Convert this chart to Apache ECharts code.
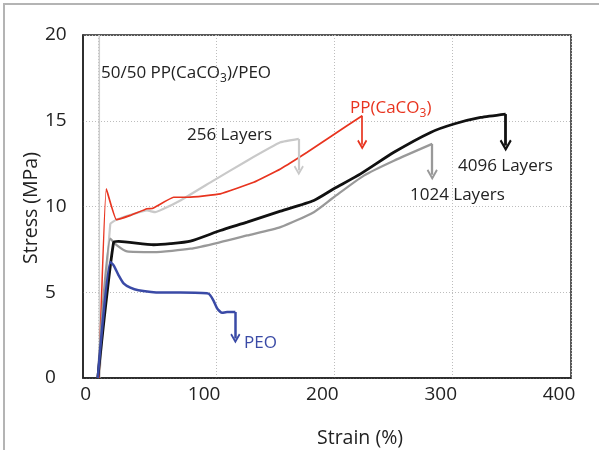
<!DOCTYPE html>
<html>
<head>
<meta charset="utf-8">
<script src="https://cdn.jsdelivr.net/npm/echarts@6/dist/echarts.min.js"></script>
<style>html,body{margin:0;padding:0;background:#fff}#c{width:599px;height:450px}</style>
</head>
<body>
<div id="c"></div>
<script>
// ---- data (strain %, stress MPa) ----
const xTicks = [0, 100, 200, 300, 400];
const yTicks = [0, 5, 10, 15, 20];
const refLine = [[1.3, 0], [1.3, 20]];
const layers256 = [[1.3,0],[10.6,8.99],[15.7,9.23],[41.6,9.77],[48.6,9.67],[69.8,10.35],[97.7,11.51],[126.2,12.67],[154.4,13.74],[169.9,13.94]];
const ppCaCO3 = [[1,0],[7.2,11.03],[15.7,9.23],[27.5,9.48],[41.6,9.87],[46,9.88],[64.1,10.54],[76.6,10.54],[103.6,10.74],[131.8,11.41],[154.4,12.19],[177,13.16],[196.7,14.07],[223.5,15.29]];
const layers4096 = [[0,0],[13.4,7.92],[17.6,7.97],[47.2,7.77],[61.3,7.83],[78.3,7.98],[103.6,8.6],[126.2,9.09],[154.4,9.73],[182.6,10.35],[199.5,11.03],[222.1,11.9],[250.3,13.16],[281.3,14.32],[301,14.81],[323.6,15.19],[344.8,15.39]];
const layers1024 = [[0,0],[10.6,8.12],[16.2,7.73],[24.7,7.38],[47.2,7.34],[78.3,7.54],[103.6,7.92],[126.2,8.31],[154.4,8.8],[182.6,9.67],[199.5,10.54],[224.9,11.8],[250.3,12.67],[282.7,13.65]];
const peo = [[0,0],[10.6,6.76],[13.4,6.57],[17.6,5.99],[21.8,5.52],[27.5,5.27],[34.3,5.12],[52.9,4.98],[69.8,4.98],[93.5,4.92],[97.7,4.53],[100.8,4.07],[105.1,3.8],[109.3,3.85],[116.3,3.85]];
// arrow tips (stress value at arrow head), arrows start at last point of each curve
const tip256 = 12.1, tipPP = 13.6, tip4096 = 13.55, tip1024 = 11.85, tipPEO = 2.3;

const FONT = 'Open Sans';
const arrowPath = 'path://M5,0L10,8.5L8.6,9.6L5,3.6L1.4,9.6L0,8.5Z';

function arrow(data, tip, color, width, size) {
  const last = data[data.length - 1];
  return {
    silent: true, animation: false,
    symbol: ['none', arrowPath], symbolSize: size,
    label: {show: false},
    lineStyle: {color: color, width: width, type: 'solid'},
    data: [[{coord: [last[0], last[1]]}, {coord: [last[0], tip]}]]
  };
}
function curve(name, data, color, width, tip, size, z, smooth) {
  return {
    name: name, type: 'line', data: data, showSymbol: false, smooth: smooth || false,
    lineStyle: {color: color, width: width}, z: z, animation: false,
    markLine: tip == null ? undefined : arrow(data, tip, color, width, size)
  };
}
const subRich = (color) => ({s: {fontSize: 12, lineHeight: 12, padding: [11, 0, 0, 0], fill: color, fontFamily: FONT}});

const chart = echarts.init(document.getElementById('c'));
chart.setOption({
  animation: false,
  grid: {left: 83, top: 35, right: 28, bottom: 72, show: true, borderColor: '#222', borderWidth: 1.5, containLabel: false, outerBoundsMode: 'none'},
  xAxis: {
    type: 'value', min: -12.5, max: 400,
    axisLine: {show: true, onZero: false, lineStyle: {color: '#222', width: 1.5}},
    axisTick: {show: false, customValues: xTicks},
    axisLabel: {customValues: xTicks, color: '#222', fontFamily: FONT, fontSize: 19, margin: 7, padding: [0, 24, 0, 0]},
    splitLine: {show: true, lineStyle: {color: '#bdbdbd', type: [1, 2], width: 1}}
  },
  yAxis: {
    type: 'value', min: 0, max: 20, interval: 5,
    axisLine: {show: true, onZero: false, lineStyle: {color: '#222', width: 1.5}},
    axisTick: {show: false},
    axisLabel: {color: '#222', fontFamily: FONT, fontSize: 19, margin: 38, align: 'left'},
    splitLine: {show: true, lineStyle: {color: '#bdbdbd', type: [1, 2], width: 1}}
  },
  series: [
    curve('ref', refLine, '#cdcdcd', 1.5, null, null, 1),
    curve('256 Layers', layers256, '#c9c9c9', 2.2, tip256, [10, 10], 2, 0.1),
    curve('PP(CaCO3)', ppCaCO3, '#e8341f', 1.7, tipPP, [10, 10], 3, 0.1),
    curve('1024 Layers', layers1024, '#999999', 2.3, tip1024, [11, 11], 4, 0.2),
    curve('4096 Layers', layers4096, '#111111', 2.8, tip4096, [12, 12], 5, 0.2),
    curve('PEO', peo, '#3a4aa6', 2.5, tipPEO, [10, 10], 6, 0.2)
  ],
  graphic: [
    {type: 'rect', shape: {x: 4, y: 4, width: 700, height: 600}, style: {fill: 'none', stroke: '#b4b4b4', lineWidth: 2}, silent: true},
    {type: 'text', x: 101, y: 73, style: {text: '50/50 PP(CaCO{s|3})/PEO', fill: '#222', font: '17px "Open Sans"', lineHeight: 20, verticalAlign: 'middle', rich: subRich('#222')}},
    {type: 'text', x: 187, y: 135, style: {text: '256 Layers', fill: '#222', font: '17px "Open Sans"', verticalAlign: 'middle'}},
    {type: 'text', x: 350, y: 108, style: {text: 'PP(CaCO{s|3})', fill: '#e8341f', font: '17px "Open Sans"', lineHeight: 20, verticalAlign: 'middle', rich: subRich('#e8341f')}},
    {type: 'text', x: 458, y: 166, style: {text: '4096 Layers', fill: '#222', font: '17px "Open Sans"', verticalAlign: 'middle'}},
    {type: 'text', x: 410, y: 195, style: {text: '1024 Layers', fill: '#222', font: '17px "Open Sans"', verticalAlign: 'middle'}},
    {type: 'text', x: 244, y: 343, style: {text: 'PEO', fill: '#3a4aa6', font: '17px "Open Sans"', verticalAlign: 'middle'}},
    {type: 'text', x: 360, y: 438, style: {text: 'Strain (%)', fill: '#222', font: '19.5px "Open Sans"', align: 'center', verticalAlign: 'middle'}},
    {type: 'text', x: 31, y: 208, rotation: Math.PI / 2, style: {text: 'Stress (MPa)', fill: '#222', font: '19.5px "Open Sans"', align: 'center', verticalAlign: 'middle'}}
  ]
});
</script>
</body>
</html>
